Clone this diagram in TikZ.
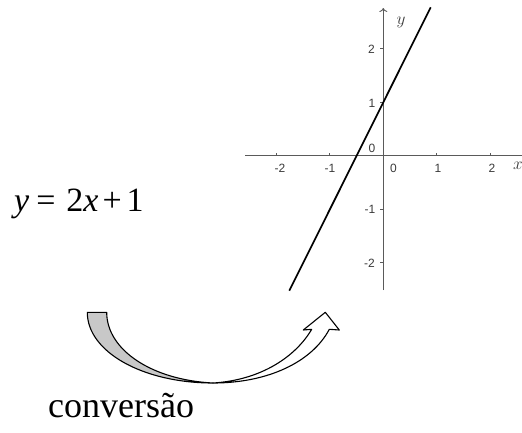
\documentclass[tikz,border=0pt]{standalone}
\usepackage{fontspec}
\setmainfont{Liberation Serif}
\newfontfamily\axisfont{Liberation Sans}
\usetikzlibrary{arrows.meta}
\definecolor{axisgray}{HTML}{5A5A5A}
\definecolor{labelgray}{HTML}{3A3A3A}
\definecolor{fillgray}{HTML}{C8C8C8}
\tikzset{
  axisline/.style={draw=axisgray, line width=0.9pt},
  ticklabel/.style={inner sep=0pt, text=labelgray, font=\axisfont\fontsize{12}{14}\selectfont},
  axislabel/.style={inner sep=0pt, text=labelgray, font=\fontsize{18}{20}\selectfont},
  graphline/.style={line width=1.7pt},
  arrowpart/.style={draw=black, line width=1.1pt, line join=round},
}
\begin{document}
\begin{tikzpicture}[x=1pt,y=-1pt]
\useasboundingbox (0,0) rectangle (522,432);
\clip (0,0) rectangle (522,432);
% axes
\coordinate (xl) at (245,155.7);
\coordinate (xr) at (524,155.7);
\coordinate (yb) at (383.3,290);
\coordinate (yt) at (383.3,8);
\draw[axisline] (xl) -- (xr);
\draw[axisline,-{To[length=4pt,width=8pt]}] (yb) -- (yt);
\foreach \i in {-2,-1,1,2}{
  \draw[axisline] ({383.3+\i*53.4},155.7) -- ++(0,-3);
  \draw[axisline] (383.3,{155.7-\i*53.4}) -- ++(-3,0);
}
% tick labels
\node[ticklabel] (tx-2) at (280,168) {-2};
\node[ticklabel] (tx-1) at (330,168) {-1};
\node[ticklabel] (tx0) at (393.5,168) {0};
\node[ticklabel] (tx1) at (438,168) {1};
\node[ticklabel] (tx2) at (492,168) {2};
\node[ticklabel] (ty2) at (371.5,49) {2};
\node[ticklabel] (ty1) at (372,103) {1};
\node[ticklabel] (ty0) at (372,148) {0};
\node[ticklabel] (ty-1) at (370,209) {-1};
\node[ticklabel] (ty-2) at (369.5,263) {-2};
\node[axislabel] (ylab) at (401,22) {$y$};
\node[axislabel] (xlab) at (518,166) {$x$};
% graph line
\coordinate (lb) at (289.3,290.7);
\coordinate (lt) at (430.7,7.3);
\draw[graphline] (lb) -- (lt);
% equation
\node[anchor=base west, inner sep=0pt, font=\fontsize{34}{40}\selectfont] (eq) at (14,211.7)
  {\textit{y}\hspace{7pt}=\hspace{11pt}2\textit{x}\hspace{4pt}+\hspace{5pt}1};
% conversion arrow
\coordinate (bot) at (213,383);
\draw[arrowpart, fill=white] (bot) .. controls (268,383) and (312,362) .. (329.3,329.3)
  -- (339.3,330) -- (325.3,312.3) -- (303.3,330) -- (311.7,329.3)
  .. controls (296,356) and (262,380) .. (bot) -- cycle;
\draw[arrowpart, fill=fillgray] (87.3,312.3) -- (106.7,312.3)
  .. controls (106.7,350) and (152,380) .. (bot)
  .. controls (143,383) and (87.3,352) .. cycle;
\node[anchor=base west, inner sep=0pt, font=\fontsize{36}{42}\selectfont] (conv) at (48,417.3) {conversão};
\end{tikzpicture}
\end{document}
